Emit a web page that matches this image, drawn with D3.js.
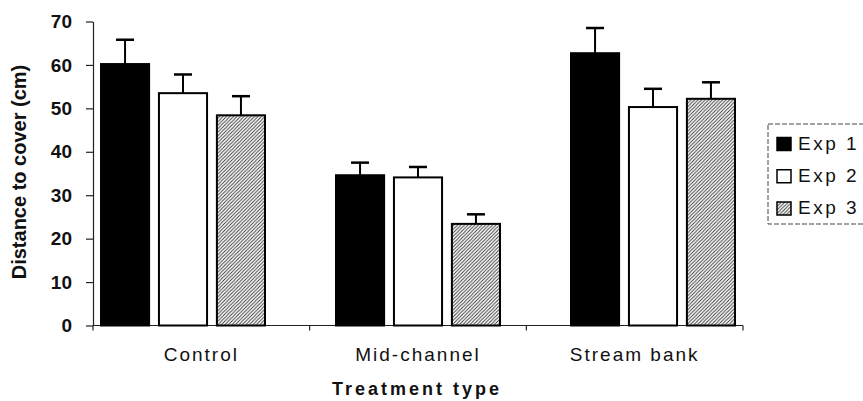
<!DOCTYPE html>
<html>
<head>
<meta charset="utf-8">
<script src="https://cdn.jsdelivr.net/npm/d3@7"></script>
<style>
  body { margin: 0; background: #fff; }
  text { font-family: "Liberation Sans", Arial, sans-serif; fill: #111; }
</style>
</head>
<body>
<div id="chart"></div>
<script>
// values
const categories = ['Control', 'Mid-channel', 'Stream bank'];
const series = ['Exp 1', 'Exp 2', 'Exp 3'];
const exp1 = [60.2, 34.6, 62.7];
const exp1Err = [5.6, 2.9, 5.8];
const exp2 = [53.5, 34.1, 50.3];
const exp2Err = [4.3, 2.4, 4.2];
const exp3 = [48.4, 23.4, 52.2];
const exp3Err = [4.4, 2.2, 3.8];
const yTicks = [0, 10, 20, 30, 40, 50, 60, 70];

const width = 863, height = 401;
const means = [exp1, exp2, exp3];
const errs = [exp1Err, exp2Err, exp3Err];

const rows = [];
categories.forEach((c, i) => {
    series.forEach((s, j) => {
        rows.push({ cat: c, ser: s, value: means[j][i], err: errs[j][i] });
    });
});

const svg = d3.select('#chart').append('svg')
    .attr('width', width)
    .attr('height', height);

const defs = svg.append('defs');
defs.append('pattern')
    .attr('id', 'hatch')
    .attr('patternUnits', 'userSpaceOnUse')
    .attr('width', 3.5)
    .attr('height', 3.5)
  .append('path')
    .attr('d', 'M-1,1 l2,-2 M0,3.5 l3.5,-3.5 M2.5,4.5 l2,-2')
    .attr('stroke', '#333')
    .attr('stroke-width', 0.9);

const fills = { 'Exp 1': '#000', 'Exp 2': '#fff', 'Exp 3': 'url(#hatch)' };

const y = d3.scaleLinear()
    .domain([0, 70])
    .range([325.5, 21.5]);

// axis categories (labels, ticks)
const xAxisScale = d3.scaleBand()
    .domain(categories)
    .range([93, 743]);

// bar groups sit a little wider than the axis bands in the original
const xGroup = d3.scalePoint()
    .domain(categories)
    .range([183, 653]);

const xSub = d3.scaleBand()
    .domain(series)
    .range([-82, 82])
    .paddingInner(0.17);

// y axis
const yAxis = svg.append('g')
    .attr('transform', 'translate(93,0)')
    .call(d3.axisLeft(y).tickValues(yTicks).tickSize(7).tickPadding(14).tickSizeOuter(0));
yAxis.select('.domain').attr('stroke', '#222').attr('stroke-width', 1.2);
yAxis.selectAll('.tick line').attr('stroke', '#222').attr('stroke-width', 1.2);
yAxis.selectAll('.tick text')
    .attr('font-size', 19)
    .attr('font-weight', 'bold')
    .attr('font-family', '"Liberation Sans", Arial, sans-serif')
    .attr('fill', '#111');

// x axis line with boundary ticks
svg.append('line')
    .attr('x1', xAxisScale.range()[0]).attr('x2', xAxisScale.range()[1])
    .attr('y1', y(0)).attr('y2', y(0))
    .attr('stroke', '#222').attr('stroke-width', 1.2);
const bounds = categories.map(c => xAxisScale(c)).concat([xAxisScale.range()[1]]);
svg.selectAll('.xtick')
    .data(bounds)
    .enter().append('line')
    .attr('x1', d => d).attr('x2', d => d)
    .attr('y1', y(0)).attr('y2', y(0) + 5)
    .attr('stroke', '#222').attr('stroke-width', 1.2);

svg.selectAll('.catlabel')
    .data(categories)
    .enter().append('text')
    .attr('x', d => xAxisScale(d) + xAxisScale.bandwidth() / 2)
    .attr('y', 361)
    .attr('text-anchor', 'middle')
    .attr('font-size', 19)
    .attr('letter-spacing', 2)
    .text(d => d);

// bars
svg.append('g')
    .selectAll('rect')
    .data(rows)
    .enter().append('rect')
    .attr('x', d => xGroup(d.cat) + xSub(d.ser))
    .attr('y', d => y(d.value))
    .attr('width', xSub.bandwidth())
    .attr('height', d => y(0) - y(d.value))
    .attr('fill', d => fills[d.ser])
    .attr('stroke', '#000')
    .attr('stroke-width', 2);

// error bars (upper only)
const eb = svg.append('g').selectAll('g')
    .data(rows)
    .enter().append('g')
    .attr('transform', d => 'translate(' + (xGroup(d.cat) + xSub(d.ser) + xSub.bandwidth() / 2) + ',0)');
eb.append('line')
    .attr('x1', 0).attr('x2', 0)
    .attr('y1', d => y(d.value)).attr('y2', d => y(d.value + d.err))
    .attr('stroke', '#000').attr('stroke-width', 2);
eb.append('line')
    .attr('x1', -9).attr('x2', 9)
    .attr('y1', d => y(d.value + d.err)).attr('y2', d => y(d.value + d.err))
    .attr('stroke', '#000').attr('stroke-width', 2.5);

// axis titles
svg.append('text')
    .attr('transform', 'translate(26,172) rotate(-90)')
    .attr('text-anchor', 'middle')
    .attr('font-size', 20)
    .attr('font-weight', 'bold')
    .text('Distance to cover (cm)');

svg.append('text')
    .attr('x', 417)
    .attr('y', 395)
    .attr('text-anchor', 'middle')
    .attr('font-size', 18)
    .attr('font-weight', 'bold')
    .attr('letter-spacing', 3)
    .text('Treatment type');

// legend
const legend = svg.append('g');
legend.append('rect')
    .attr('x', 768).attr('y', 124)
    .attr('width', 120).attr('height', 100)
    .attr('fill', 'none')
    .attr('stroke', '#444')
    .attr('stroke-width', 1)
    .attr('stroke-dasharray', '5,2');

const legendY = d3.scalePoint()
    .domain(series)
    .range([149.5, 214]);

const item = legend.selectAll('.item')
    .data(series)
    .enter().append('g');
item.append('rect')
    .attr('x', 777)
    .attr('y', d => legendY(d) - 12)
    .attr('width', 14)
    .attr('height', 13)
    .attr('fill', d => fills[d])
    .attr('stroke', '#000')
    .attr('stroke-width', 1.5);
item.append('text')
    .attr('x', 798)
    .attr('y', d => legendY(d))
    .attr('font-size', 19)
    .attr('letter-spacing', 2.5)
    .text(d => d);
</script>
</body>
</html>
